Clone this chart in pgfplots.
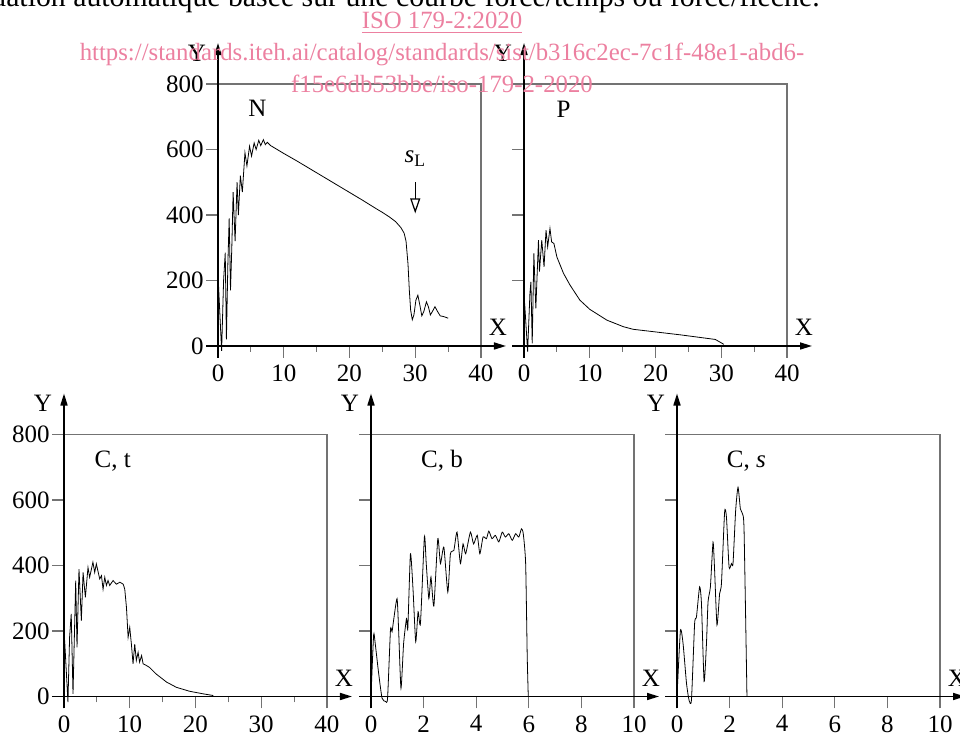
\documentclass[border=0pt]{standalone}
\usepackage{pgfplots}
\pgfplotsset{compat=1.18}
\usetikzlibrary{arrows.meta}
\usepackage{fontspec}
\setmainfont{Liberation Serif}
\definecolor{framegray}{gray}{0.45}
\definecolor{wmpink}{RGB}{236,128,160}
\newcommand{\lblfont}{\fontsize{12.5bp}{15bp}\selectfont}
\pgfplotsset{
  panel/.style={
    scale only axis, width=131.5bp, height=131bp, anchor=south west,
    clip=false,
    ymin=0, ymax=800, ytick={0,200,400,600,800},
    axis line style={draw=framegray, line width=0.55bp},
    tick style={draw=framegray, line width=0.6bp},
    tick align=outside, xtick pos=lower, ytick pos=left,
    major tick length=6bp, minor tick length=3bp,
    tick label style={font=\lblfont},
    /pgf/number format/assume math mode=true,
    yticklabel style={inner xsep=1bp},
    every axis x label/.style={at={(rel axis cs:1,0)}, anchor=base, xshift=8.5bp, yshift=5bp, font=\lblfont},
    every axis y label/.style={at={(rel axis cs:0,1)}, anchor=base, xshift=-10.5bp, yshift=11.5bp, font=\lblfont},
    xlabel={X}, ylabel={Y},
    cycle list={{black, line width=0.6bp, mark=none}},
  },
  wide/.style={xmin=0, xmax=40, xtick={0,10,20,30,40}, minor xtick={5,15,25,35}},
  narrow/.style={xmin=0, xmax=10, xtick={0,2,4,6,8,10}},
}
\newcommand{\axarrows}{%
  \draw[black, line width=0.8bp, -{Triangle[length=6bp,width=3.5bp]}] ([yshift=-6bp]rel axis cs:0,0) -- ([yshift=20.5bp]rel axis cs:0,1);
  \draw[black, line width=0.8bp, -{Triangle[length=6bp,width=3.5bp]}] ([xshift=-6bp]rel axis cs:0,0) -- ([xshift=12.5bp]rel axis cs:1,0);
}
\begin{document}
\begin{tikzpicture}
\path[use as bounding box] (0,0) rectangle (480bp,367.5bp);

% header line (cut at the top of the page)
\node[anchor=base east, inner sep=0pt, font=\fontsize{14.9bp}{18bp}\selectfont] at (410bp,364bp)
  {Évaluation automatique basée sur une courbe force/temps ou force/flèche.};

% ---------- N ----------
\begin{axis}[panel, wide, at={(109bp,194.5bp)}]
\addplot table {
x y
0 0
0.08 185
0.55 -15
0.85 200
1.1 285
1.28 20
1.5 250
1.7 390
1.9 170
2.1 300
2.3 470
2.6 320
2.9 500
3.1 400
3.4 520
3.7 470
4.1 590
4.4 550
4.8 610
5.1 580
5.5 620
5.8 600
6.2 628
6.5 612
6.9 630
7.2 615
7.5 622
8.0 612
10 588
12 565
14 541
16 517
18 493
20 469
22 445
24 420
25 408
26 395
27 380
27.8 362
28.3 345
28.6 320
28.9 250
29.1 170
29.3 110
29.55 80
29.8 95
30.1 140
30.4 155
30.7 125
31.0 92
31.3 105
31.7 135
32.0 120
32.3 95
32.6 105
33.0 120
33.4 105
33.8 92
34.3 90
35.0 85
};
\axarrows
\node[font=\lblfont] at (axis cs:6,725) {N};
\draw[black, line width=0.6bp, -{Triangle[open,length=7.5bp,width=5bp]}] (axis cs:30,500) -- (axis cs:30,405);
\node[font=\lblfont] at (axis cs:30,572) {\textit{s}\textsubscript{L}};
\end{axis}

% ---------- P ----------
\begin{axis}[panel, wide, at={(262bp,194.5bp)}, yticklabels={}]
\addplot table {
x y
0 0
0.1 130
0.55 -17
0.9 160
1.05 196
1.25 8
1.5 283
1.8 115
2.2 323
2.35 227
2.7 323
3.05 242
3.35 354
3.6 303
3.95 359
4.2 318
4.55 313
5.0 272
6 222
7 186
8.5 140
10 112
12.6 79
15.1 59
16.6 51
23.8 34
29.1 20
30.4 5
};
\axarrows
\node[font=\lblfont] at (axis cs:6,722) {P};
\end{axis}

% ---------- C, t ----------
\begin{axis}[panel, wide, at={(32bp,19.25bp)}]
\addplot table {
x y
0 0
0.1 171
0.6 -17
0.85 181
1.1 252
1.37 8
1.78 354
1.98 150
2.28 389
2.64 232
2.9 379
3.25 303
3.65 394
3.9 364
4.4 410
4.67 379
4.92 405
5.43 359
5.7 369
5.94 328
6.2 364
6.45 339
6.7 354
6.95 339
7.46 354
7.97 343
8.5 349
9.0 343
9.24 328
9.5 272
9.75 181
10.0 211
10.25 160
10.5 100
10.76 160
11.0 110
11.27 135
11.5 105
11.8 125
12.03 100
12.5 95
13 89
14 69
15.6 44
17.1 28
19.1 16
21.2 8
22.7 3
};
\axarrows
\node[font=\lblfont] at (axis cs:7.4,720) {C, t};
\end{axis}

% ---------- C, b ----------
\begin{axis}[panel, narrow, at={(185.5bp,19.25bp)}, yticklabels={}]
\addplot+[smooth, tension=0.35] table {
x y
0 0
0.1 188
0.16 162
0.29 71
0.42 -5
0.55 -15
0.63 -5
0.74 203
0.8 198
0.86 233
0.99 299
1.05 203
1.14 25
1.24 162
1.35 238
1.4 208
1.5 436
1.6 324
1.7 167
1.79 259
1.88 223
2.03 487
2.1 406
2.2 299
2.28 365
2.39 276
2.54 482
2.64 406
2.77 456
2.92 319
3.02 436
3.15 446
3.27 502
3.4 406
3.5 466
3.6 436
3.78 502
3.9 466
4.04 492
4.14 436
4.26 487
4.39 482
4.48 505
4.6 482
4.73 492
4.86 472
4.99 502
5.11 487
5.24 497
5.37 477
5.5 497
5.62 487
5.72 512
5.79 497
5.88 406
5.94 122
5.98 0
};
\axarrows
\node[font=\lblfont] at (axis cs:2.7,720) {C, b};
\end{axis}

% ---------- C, s ----------
\begin{axis}[panel, narrow, at={(338.5bp,19.25bp)}, yticklabels={}]
\addplot+[smooth, tension=0.35] table {
x y
0 0
0.13 201
0.23 162
0.36 41
0.46 -12
0.55 -10
0.67 223
0.74 243
0.86 335
0.93 284
1.03 46
1.12 162
1.18 289
1.27 335
1.37 471
1.43 385
1.52 218
1.62 314
1.69 345
1.81 563
1.88 548
1.98 395
2.07 406
2.13 406
2.23 568
2.32 639
2.41 573
2.49 558
2.55 507
2.66 0
};
\axarrows
\node[font=\lblfont] at (axis cs:2.64,720) {C, \textit{s}};
\end{axis}

% watermark
\begin{scope}[wmpink, font=\fontsize{12.4bp}{15bp}\selectfont]
\node[anchor=base, inner sep=0pt] at (221bp,353bp) {\underline{ISO 179-2:2020}};
\node[anchor=base, inner sep=0pt] at (221bp,337bp) {https://standards.iteh.ai/catalog/standards/sist/b316c2ec-7c1f-48e1-abd6-};
\node[anchor=base, inner sep=0pt] at (221bp,321bp) {f15e6db53bbe/iso-179-2-2020};
\end{scope}
\end{tikzpicture}
\end{document}
